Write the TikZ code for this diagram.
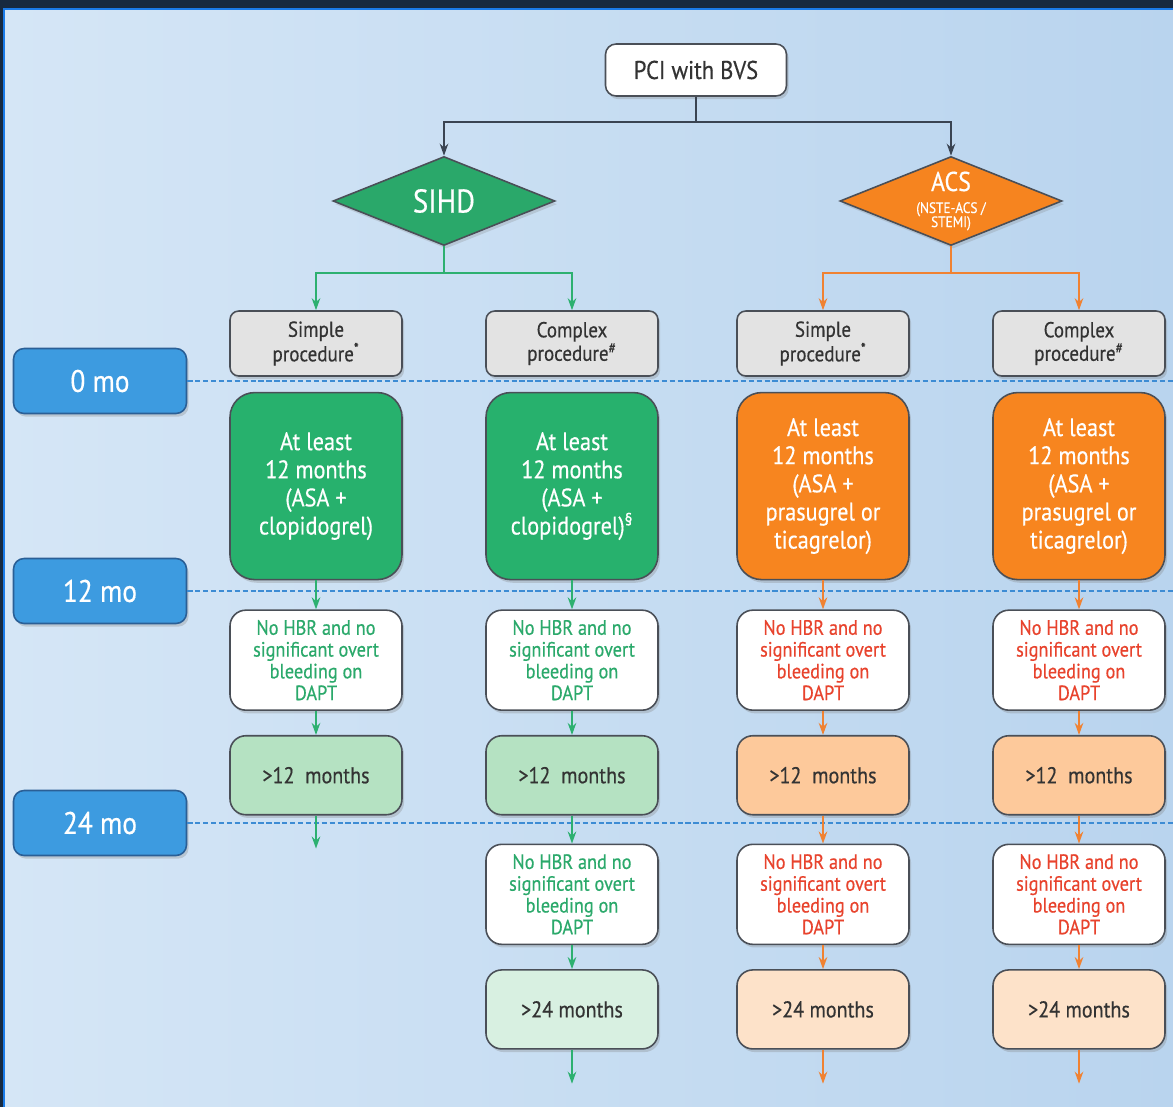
\documentclass[tikz,border=0pt]{standalone}
\usepackage{fontspec}
\setmainfont{PT Sans}[FakeStretch=0.88, FakeBold=0.45]
\usetikzlibrary{positioning, shapes.geometric, arrows.meta, shadows}

\definecolor{bgleft}{HTML}{D5E6F6}
\definecolor{bgright}{HTML}{B9D4EE}
\definecolor{navy}{HTML}{172A40}
\definecolor{edgeblue}{HTML}{1A7BE8}
\definecolor{boxline}{HTML}{4A4F57}
\definecolor{darktext}{HTML}{333333}
\definecolor{sihdgreen}{HTML}{2AA86A}
\definecolor{acsorange}{HTML}{F6841F}
\definecolor{procgray}{HTML}{E3E3E3}
\definecolor{timeblue}{HTML}{3D9BE0}
\definecolor{timeedge}{HTML}{2A5F96}
\definecolor{dashblue}{HTML}{3D8CD4}
\definecolor{gbig}{HTML}{27B16D}
\definecolor{obig}{HTML}{F7851F}
\definecolor{gtext}{HTML}{2BA96B}
\definecolor{otext}{HTML}{E8432D}
\definecolor{gmid}{HTML}{B5E2C2}
\definecolor{glight}{HTML}{D8F0E1}
\definecolor{omid}{HTML}{FDC99B}
\definecolor{olight}{HTML}{FDE2C9}
\definecolor{gline}{HTML}{2DB070}
\definecolor{oline}{HTML}{F08232}
\definecolor{darkline}{HTML}{3A4452}

\begin{document}
\begin{tikzpicture}[
        every node/.style={text=darktext},
        box/.style={rectangle, draw=boxline, line width=0.9pt, minimum width=3.44cm, align=center,
            drop shadow={shadow xshift=1.2pt, shadow yshift=-1.8pt, opacity=0.3}},
        startbox/.style={box, fill=white, minimum width=3.62cm, minimum height=1.04cm, rounded corners=6pt, font=\fontsize{14.6}{16}\selectfont},
        decision/.style={diamond, draw=boxline, line width=0.9pt, minimum width=4.44cm, minimum height=1.78cm, inner sep=0pt, aspect=2.5,
            text=white, align=center, drop shadow={shadow xshift=1.2pt, shadow yshift=-1.8pt, opacity=0.25}},
        procbox/.style={box, fill=procgray, minimum height=1.3cm, rounded corners=5pt, font=\fontsize{12.3}{11.5}\selectfont},
        timebox/.style={box, fill=timeblue, draw=timeedge, minimum width=3.46cm, minimum height=1.3cm, rounded corners=6pt,
            text=white, font=\fontsize{17.7}{20}\selectfont},
        dapt/.style={box, minimum height=3.74cm, rounded corners=14pt, text=white, font=\fontsize{14.4}{16}\selectfont},
        hbr/.style={box, fill=white, minimum height=2cm, rounded corners=9pt, font=\fontsize{11.8}{12.4}\selectfont},
        ext/.style={box, minimum height=1.58cm, rounded corners=9pt, font=\fontsize{13}{15}\selectfont},
        timeline/.style={draw=dashblue, line width=1pt, dash pattern=on 3pt off 1.5pt},
        link/.style={line width=1.2pt},
        arrow/.style={line width=1.2pt, -{Stealth[length=2.4mm, width=1.7mm]}}
    ]

    % Background
    \useasboundingbox (0,0) rectangle (23.46,-22.14);
    \shade[left color=bgleft, right color=bgright] (0,0) rectangle (23.46,-22.14);
    \fill[navy] (0,0) rectangle (23.46,-0.16);
    \fill[navy] (0,0) rectangle (0.06,-22.14);
    \fill[edgeblue] (0.06,-0.16) rectangle (23.46,-0.2);
    \fill[edgeblue] (0.06,-0.16) rectangle (0.1,-22.14);
    \coordinate (edge) at (23.46,0);

    % Time axis
    \node[timebox] (t0) at (2.00,-7.62) {0 mo};
    \node[timebox] (t12) at (2.00,-11.82) {12 mo};
    \node[timebox] (t24) at (2.00,-16.46) {24 mo};
    \draw[timeline] (t0.east) -- (t0.east -| edge);
    \draw[timeline] (t12.east) -- (t12.east -| edge);
    \draw[timeline] (t24.east) -- (t24.east -| edge);

    % Nodes
    \node[startbox] (pci) at (13.92,-1.40) {PCI with BVS};
    \node[decision, fill=sihdgreen, font=\fontsize{18.7}{20}\selectfont] (sihd) at (8.88,-4.02) {SIHD};
    \node[decision, fill=acsorange, font=\fontsize{15.5}{16}\selectfont] (acs) at (19.02,-4.02)
        {ACS\\[-3.5pt]{\fontsize{8.6}{8}\selectfont(NSTE-ACS /}\\[-8pt]{\fontsize{8.6}{8}\selectfont STEMI)}};

    \node[procbox] (proc1) at (6.32,-6.87) {Simple\\procedure\textsuperscript{*}};
    \node[procbox] (proc2) at (11.44,-6.87) {Complex\\procedure\textsuperscript{\#}};
    \node[procbox] (proc3) at (16.46,-6.87) {Simple\\procedure\textsuperscript{*}};
    \node[procbox] (proc4) at (21.58,-6.87) {Complex\\procedure\textsuperscript{\#}};

    \node[dapt, fill=gbig, below=0.3cm of proc1] (dapt1) {At least\\12 months\\(ASA +\\clopidogrel)};
    \node[dapt, fill=gbig, below=0.3cm of proc2] (dapt2) {At least\\12 months\\(ASA +\\clopidogrel)\textsuperscript{§}};
    \node[dapt, fill=obig, below=0.3cm of proc3] (dapt3) {At least\\12 months\\(ASA +\\prasugrel or\\ticagrelor)};
    \node[dapt, fill=obig, below=0.3cm of proc4] (dapt4) {At least\\12 months\\(ASA +\\prasugrel or\\ticagrelor)};

    \node[hbr, text=gtext, below=0.58cm of dapt1] (hbr1) {No HBR and no\\significant overt\\bleeding on\\DAPT};
    \node[hbr, text=gtext, below=0.58cm of dapt2] (hbr2) {No HBR and no\\significant overt\\bleeding on\\DAPT};
    \node[hbr, text=otext, below=0.58cm of dapt3] (hbr3) {No HBR and no\\significant overt\\bleeding on\\DAPT};
    \node[hbr, text=otext, below=0.58cm of dapt4] (hbr4) {No HBR and no\\significant overt\\bleeding on\\DAPT};

    \node[ext, fill=gmid, below=0.48cm of hbr1] (ext1) {>12~~months};
    \node[ext, fill=gmid, below=0.48cm of hbr2] (ext2) {>12~~months};
    \node[ext, fill=omid, below=0.48cm of hbr3] (ext3) {>12~~months};
    \node[ext, fill=omid, below=0.48cm of hbr4] (ext4) {>12~~months};

    \node[hbr, text=gtext, below=0.56cm of ext2] (hbrlate2) {No HBR and no\\significant overt\\bleeding on\\DAPT};
    \node[hbr, text=otext, below=0.56cm of ext3] (hbrlate3) {No HBR and no\\significant overt\\bleeding on\\DAPT};
    \node[hbr, text=otext, below=0.56cm of ext4] (hbrlate4) {No HBR and no\\significant overt\\bleeding on\\DAPT};

    \node[ext, fill=glight, below=0.48cm of hbrlate2] (extlate2) {>24 months};
    \node[ext, fill=olight, below=0.48cm of hbrlate3] (extlate3) {>24 months};
    \node[ext, fill=olight, below=0.48cm of hbrlate4] (extlate4) {>24 months};

    \coordinate (topsplit) at (13.92,-2.44);
    \coordinate (sihdsplit) at (8.88,-5.46);
    \coordinate (acssplit) at (19.02,-5.46);
    \coordinate[below=0.66cm of ext1] (end1);
    \coordinate[below=0.68cm of extlate2] (end2);
    \coordinate[below=0.68cm of extlate3] (end3);
    \coordinate[below=0.68cm of extlate4] (end4);

    % Arrows
    \draw[link, darkline] (pci) -- (topsplit);
    \draw[arrow, darkline] (topsplit) -| (sihd);
    \draw[arrow, darkline] (topsplit) -| (acs);
    \draw[link, gline] (sihd) -- (sihdsplit);
    \draw[arrow, gline] (sihdsplit) -| (proc1);
    \draw[arrow, gline] (sihdsplit) -| (proc2);
    \draw[link, oline] (acs) -- (acssplit);
    \draw[arrow, oline] (acssplit) -| (proc3);
    \draw[arrow, oline] (acssplit) -| (proc4);

    \foreach \c/\clr in {1/gline, 2/gline, 3/oline, 4/oline} {
        \draw[arrow, \clr] (dapt\c) -- (hbr\c);
        \draw[arrow, \clr] (hbr\c) -- (ext\c);
    }
    \draw[arrow, gline] (ext1) -- (end1);
    \foreach \c/\clr in {2/gline, 3/oline, 4/oline} {
        \draw[arrow, \clr] (ext\c) -- (hbrlate\c);
        \draw[arrow, \clr] (hbrlate\c) -- (extlate\c);
        \draw[arrow, \clr] (extlate\c) -- (end\c);
    }

\end{tikzpicture}
\end{document}
